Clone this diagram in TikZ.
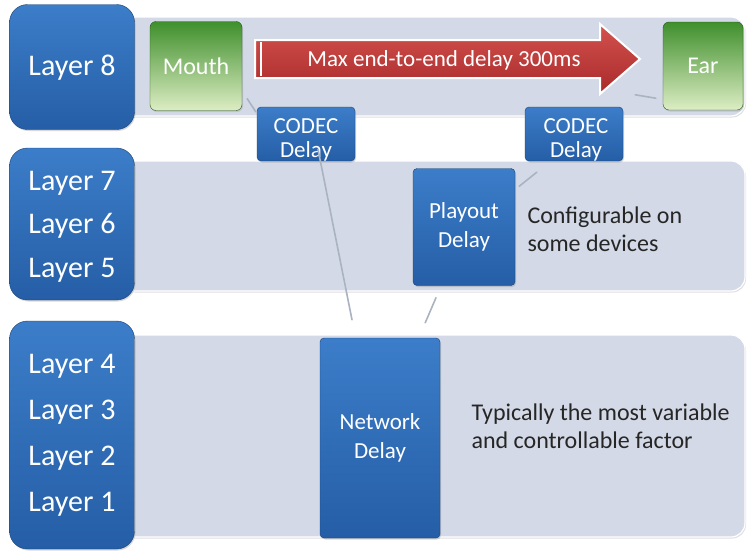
\documentclass[tikz,border=0pt]{standalone}
\usepackage{fontspec}
\setmainfont{Carlito}
\usetikzlibrary{shadows}
\definecolor{bandfill}{HTML}{D3D9E6}
\definecolor{bluetop}{HTML}{3C7DC9}
\definecolor{bluebot}{HTML}{255EA6}
\definecolor{greentop}{HTML}{3F8F2C}
\definecolor{greenbot}{HTML}{DDEDC4}
\definecolor{redtop}{HTML}{D4524F}
\definecolor{redbot}{HTML}{A82A2A}
\definecolor{txtgray}{HTML}{262626}
\definecolor{linkgray}{HTML}{A9B3C2}
\tikzset{
  band/.style={draw=white, line width=1.2pt, fill=bandfill, rounded corners=14pt,
    drop shadow={opacity=0.25, shadow xshift=1pt, shadow yshift=-1.5pt}},
  layerbox/.style={draw=bluebot!70!black, line width=0.4pt, top color=bluetop, bottom color=bluebot,
    rounded corners=18pt, text=white,
    drop shadow={opacity=0.3, shadow xshift=1pt, shadow yshift=-1.5pt}},
  delaybox/.style={draw=bluebot!70!black, line width=0.4pt, top color=bluetop, bottom color=bluebot,
    rounded corners=4pt, text=white, font=\fontsize{23}{29}\selectfont, align=center,
    drop shadow={opacity=0.3, shadow xshift=1pt, shadow yshift=-1.5pt}},
  codectext/.style={text=white, font=\fontsize{23}{24}\selectfont, align=center},
  greenbox/.style={draw=greentop!60!black, line width=0.4pt, top color=greentop, bottom color=greenbot,
    rounded corners=6pt, text=white, font=\fontsize{24}{28}\selectfont,
    drop shadow={opacity=0.25, shadow xshift=1pt, shadow yshift=-1.5pt}},
  note/.style={text=txtgray, font=\fontsize{24}{28}\selectfont, align=left, anchor=west},
  link/.style={draw=linkgray, line width=1.6pt, line cap=round},
  lbl/.style={text=white, font=\fontsize{30}{34}\selectfont}
}
\begin{document}
\begin{tikzpicture}[x=1pt, y=-1pt]
\useasboundingbox (0,0) rectangle (747,554);
\fill[white] (0,0) rectangle (747,554);

% grey bands, one per layer group
\path[band] (120,17) rectangle (745,116);
\path[band] (120,161) rectangle (745,291);
\path[band] (120,335) rectangle (745,537);

% layer boxes
\node[layerbox, minimum width=125pt, minimum height=125pt] (l8) at (72,67) {};
\node[layerbox, minimum width=125pt, minimum height=152pt] (l75) at (72,224) {};
\node[layerbox, minimum width=125pt, minimum height=228pt] (l41) at (72,435) {};
\node[lbl] (l8t) at (72,68) {Layer 8};
\node[lbl] (l7) at (72,183) {Layer 7};
\node[lbl] (l6) at (72,226) {Layer 6};
\node[lbl] (l5) at (72,270) {Layer 5};
\node[lbl] (l4) at (72,366) {Layer 4};
\node[lbl] (l3) at (72,412) {Layer 3};
\node[lbl] (l2) at (72,458) {Layer 2};
\node[lbl] (l1) at (72,504) {Layer 1};

% end points of the call
\node[greenbox, minimum width=92pt, minimum height=89pt] (mouth) at (196,66) {Mouth};
\node[greenbox, minimum width=80pt, minimum height=88pt] (ear) at (703,66) {Ear};

% end-to-end arrow
\path[draw=white, line width=2pt, top color=redtop, bottom color=redbot, line join=miter]
  (255,40) -- (600,40) -- (600,24) -- (640,59) -- (600,94) -- (600,78) -- (255,78) -- cycle;
\draw[white, line width=1.6pt] (261,42) -- (261,76);
\node[text=white, font=\fontsize{23}{28}\selectfont] (arrtxt) at (444,60) {Max end-to-end delay 300ms};

% delay components
\node[delaybox, minimum width=98pt, minimum height=54pt] (codec1) at (306,134) {};
\node[delaybox, minimum width=98pt, minimum height=54pt] (codec2) at (574,134) {};
\node[codectext] (codec1t) at (306,140) {CODEC\\Delay};
\node[codectext] (codec2t) at (576,140) {CODEC\\Delay};
\node[delaybox, minimum width=102pt, minimum height=117pt] (playout) at (464,227) {Playout\\Delay};
\node[delaybox, minimum width=120pt, minimum height=200pt] (network) at (380,438) {Network\\Delay};

% links between components
\draw[link] ([shift={(5,-12)}]mouth.south east) -- ([shift={(-1,5)}]codec1.north west);
\draw[link] ([shift={(12,-12)}]codec2.north east) -- ([shift={(-7,-12)}]ear.south west);
\draw[link] ([shift={(12,-12)}]codec1.south) -- ([shift={(-28,-18)}]network.north);
\draw[link] ([shift={(12,11)}]codec2.south west) -- ([shift={(4,18)}]playout.north east);
\draw[link] ([shift={(-28,12)}]playout.south) -- ([shift={(-15,-15)}]network.north east);

% notes
\node[note] (cfg) at (524,229) {Configurable on\\some devices};
\node[note] (typ) at (468,426) {Typically the most variable\\and controllable\ factor};
\end{tikzpicture}
\end{document}
